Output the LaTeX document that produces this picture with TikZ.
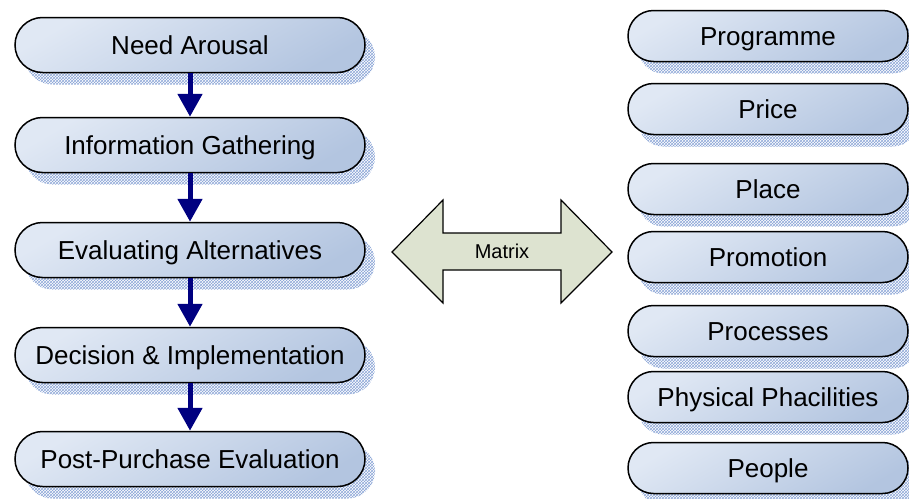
\documentclass[tikz,border=0pt]{standalone}
\usepackage{fontspec}
\setmainfont{Liberation Sans}
\usetikzlibrary{arrows.meta,shadows,patterns}

\definecolor{boxlight}{HTML}{E0E8F4}
\definecolor{boxdark}{HTML}{B3C5E0}
\definecolor{shadowblue}{HTML}{8CA6D6}
\definecolor{flowblue}{HTML}{000080}
\definecolor{matrixgreen}{HTML}{DDE3D0}

\tikzset{
    stadium/.style={draw=black, line width=1.5pt,
        top color=boxlight, bottom color=boxdark, shading angle=30,
        general shadow={shadow xshift=10pt, shadow yshift=-12pt,
            pattern=crosshatch, pattern color=shadowblue},
        font=\fontsize{26}{30}\selectfont, text height=18pt, text depth=0pt},
    stage/.style={stadium, minimum width=350pt, minimum height=55pt, rounded corners=27.5pt},
    mixbox/.style={stadium, minimum width=280pt, minimum height=51pt, rounded corners=25.5pt},
    flow/.style={flowblue, line width=5pt, -{Triangle[length=23pt,width=24pt]}}
}

\begin{document}
\begin{tikzpicture}[x=1pt,y=-1pt]
            \useasboundingbox (0,0) rectangle (909,498);

            % Buying stages
            \node [stage] (need) at (190,45) {Need Arousal};
            \node [stage] (info) at (190,145) {Information Gathering};
            \node [stage] (eval) at (190,250) {Evaluating Alternatives};
            \node [stage] (decide) at (190,355) {Decision \& Implementation};
            \node [stage] (post) at (190,459) {Post-Purchase Evaluation};

            \draw [flow] (need) -- (info);
            \draw [flow] (info) -- (eval);
            \draw [flow] (eval) -- (decide);
            \draw [flow] (decide) -- (post);

            % Marketing mix
            \node [mixbox] (prog) at (768,36) {Programme};
            \node [mixbox] (price) at (768,109) {Price};
            \node [mixbox] (place) at (768,189) {Place};
            \node [mixbox] (promo) at (768,257) {Promotion};
            \node [mixbox] (proc) at (768,331) {Processes};
            \node [mixbox] (phys) at (768,397) {Physical Phacilities};
            \node [mixbox] (people) at (768,468) {People};

            % Matrix arrow
            \draw [line width=1.2pt, fill=matrixgreen] (392,252) -- (443,200) -- (443,233) -- (561,233)
                -- (561,200) -- (612,252) -- (561,303) -- (561,270) -- (443,270) -- (443,303) -- cycle;
            \node [font=\fontsize{20}{24}\selectfont, text height=14pt, text depth=0pt] (mtx) at (502,251) {Matrix};
        \end{tikzpicture}
\end{document}
